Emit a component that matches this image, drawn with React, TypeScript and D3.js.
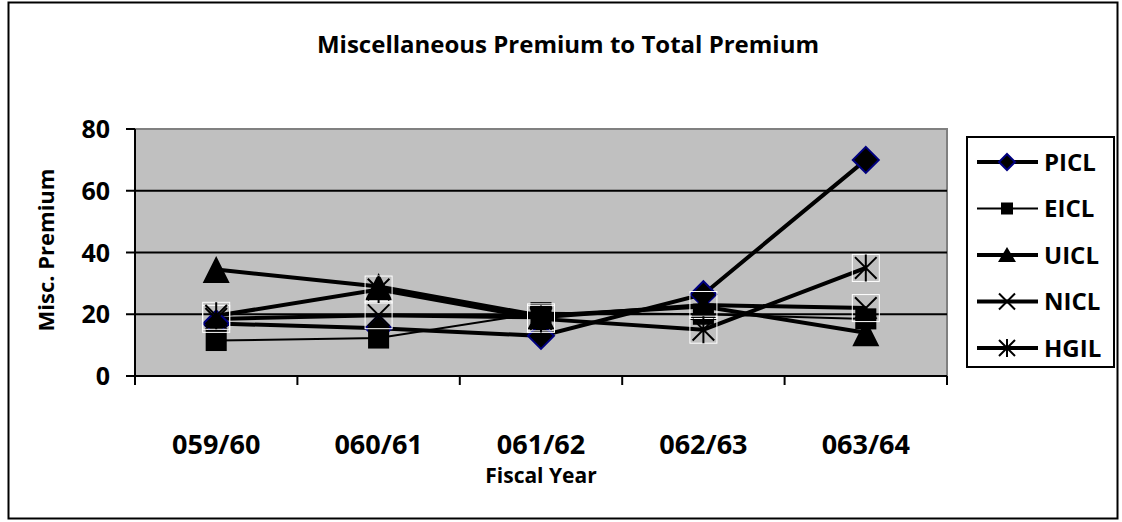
import React from 'react';
import * as d3 from 'd3';

// Fiscal years on the x axis
const YEARS = ['059/60', '060/61', '061/62', '062/63', '063/64'];
const Y_TICKS = [0, 20, 40, 60, 80];

// Misc. premium ratio per company
const PICL = [17, 15.5, 13, 26.5, 70];
const EICL = [11.5, 12.3, 20.5, 20, 18.5];
const UICL = [34.5, 29, 19.5, 22.5, 14];
const NICL = [18.5, 19.7, 19, 23, 22];
const HGIL = [19.5, 28, 18.5, 15, 35];

type Marker = 'diamond' | 'square' | 'triangle' | 'x' | 'star';

const SERIES: { name: string; values: number[]; marker: Marker; width: number }[] = [
  { name: 'PICL', values: PICL, marker: 'diamond', width: 4 },
  { name: 'EICL', values: EICL, marker: 'square', width: 2 },
  { name: 'UICL', values: UICL, marker: 'triangle', width: 4 },
  { name: 'NICL', values: NICL, marker: 'x', width: 4 },
  { name: 'HGIL', values: HGIL, marker: 'star', width: 4 },
];

const FONT = '"Open Sans", Lato, sans-serif';

function MarkerShape({ type, x, y, s }: { type: Marker; x: number; y: number; s: number }) {
  const h = s / 2;
  if (type === 'diamond') {
    return (
      <path
        d={`M${x},${y - h}L${x + h},${y}L${x},${y + h}L${x - h},${y}Z`}
        fill="#000"
        stroke="#000080"
        strokeWidth={2}
      />
    );
  }
  if (type === 'square') {
    const q = h * 0.78;
    return <rect x={x - q} y={y - q} width={q * 2} height={q * 2} fill="#000" />;
  }
  if (type === 'triangle') {
    return <path d={`M${x},${y - h}L${x + h},${y + h}L${x - h},${y + h}Z`} fill="#000" />;
  }
  const a = h * 0.8;
  return (
    <g>
      <rect x={x - h} y={y - h} width={s} height={s} fill="none" stroke="#fff" strokeWidth={1} />
      <path
        d={`M${x - a},${y - a}L${x + a},${y + a}M${x + a},${y - a}L${x - a},${y + a}` +
          (type === 'star' ? `M${x},${y - h}L${x},${y + h}` : '')}
        stroke="#000"
        strokeWidth={2}
      />
    </g>
  );
}

function LegendMarker({ type, x, y }: { type: Marker; x: number; y: number }) {
  const h = 8;
  if (type === 'diamond') {
    return (
      <path d={`M${x},${y - h}L${x + h},${y}L${x},${y + h}L${x - h},${y}Z`} fill="#000" stroke="#000080" strokeWidth={2} />
    );
  }
  if (type === 'square') return <rect x={x - 6} y={y - 6} width={12} height={12} fill="#000" />;
  if (type === 'triangle') return <path d={`M${x},${y - 8}L${x + 9},${y + 7}L${x - 9},${y + 7}Z`} fill="#000" />;
  return (
    <path
      d={`M${x - 8},${y - 8}L${x + 8},${y + 8}M${x + 8},${y - 8}L${x - 8},${y + 8}` +
        (type === 'star' ? `M${x},${y - 9}L${x},${y + 9}` : '')}
      stroke="#000"
      strokeWidth={2}
    />
  );
}

export default function App() {
  const W = 1122;
  const H = 522;
  const plot = { left: 135, right: 947, top: 129, bottom: 376 };

  const x = d3.scaleBand().domain(YEARS).range([plot.left, plot.right]).padding(0);
  const y = d3.scaleLinear().domain([0, 80]).range([plot.bottom, plot.top]);
  const cx = (d: string) => (x(d) ?? 0) + x.bandwidth() / 2;

  const line = d3
    .line<number>()
    .x((_, i) => cx(YEARS[i]))
    .y((v) => y(v));

  const legendTop = 162;
  const legendStep = 46.5;

  return (
    <svg width={W} height={H} style={{ display: 'block', position: 'absolute', left: 0, top: 0 }} fontFamily={FONT}>
      <rect x={0} y={0} width={W} height={H} fill="#fff" />
      {/* chart border */}
      <rect x={8.5} y={2.5} width={1109} height={516} fill="none" stroke="#000" strokeWidth={2} />

      <text x={568} y={45} dy="0.35em" textAnchor="middle" fontSize={24} fontWeight="bold">
        Miscellaneous Premium to Total Premium
      </text>

      {/* plot area */}
      <rect
        x={plot.left}
        y={plot.top}
        width={plot.right - plot.left}
        height={plot.bottom - plot.top}
        fill="#c0c0c0"
        stroke="#808080"
        strokeWidth={2}
      />
      {Y_TICKS.filter((t) => t > 0 && t < 80).map((t) => (
        <line key={t} x1={plot.left} x2={plot.right} y1={y(t)} y2={y(t)} stroke="#000" strokeWidth={2} />
      ))}

      {/* axes */}
      <line x1={plot.left} x2={plot.left} y1={plot.top} y2={plot.bottom} stroke="#000" strokeWidth={2} />
      <line x1={plot.left} x2={plot.right} y1={plot.bottom} y2={plot.bottom} stroke="#000" strokeWidth={2} />
      {Y_TICKS.map((t) => (
        <g key={t}>
          <line x1={plot.left - 9} x2={plot.left} y1={y(t)} y2={y(t)} stroke="#000" strokeWidth={2} />
          <text x={110} y={y(t)} dy="0.36em" textAnchor="end" fontSize={25} fontWeight="bold">
            {t}
          </text>
        </g>
      ))}
      {[...YEARS.map((d) => x(d) ?? 0), plot.right].map((px, i) => (
        <line key={i} x1={px} x2={px} y1={plot.bottom} y2={plot.bottom + 9} stroke="#000" strokeWidth={2} />
      ))}
      {YEARS.map((d) => (
        <text key={d} x={cx(d)} y={444} dy="0.36em" textAnchor="middle" fontSize={27} fontWeight="bold">
          {d}
        </text>
      ))}
      <text x={541} y={475} dy="0.36em" textAnchor="middle" fontSize={21} fontWeight="bold">
        Fiscal Year
      </text>
      <text transform={`translate(46,250) rotate(-90)`} dy="0.36em" textAnchor="middle" fontSize={22} fontWeight="bold">
        Misc. Premium
      </text>

      {/* series lines */}
      {SERIES.map((s) => (
        <path key={s.name} d={line(s.values) ?? ''} fill="none" stroke="#000" strokeWidth={s.width} />
      ))}
      {/* markers */}
      {SERIES.map((s) => (
        <g key={s.name}>
          {s.values.map((v, i) => (
            <MarkerShape key={i} type={s.marker} x={cx(YEARS[i])} y={y(v)} s={s.marker === 'diamond' ? 26 : 27} />
          ))}
        </g>
      ))}

      {/* legend */}
      <rect x={967} y={137} width={147} height={230} fill="#fff" stroke="#000" strokeWidth={2} />
      {SERIES.map((s, i) => {
        const ly = legendTop + i * legendStep;
        return (
          <g key={s.name}>
            <line x1={977} x2={1038} y1={ly} y2={ly} stroke="#000" strokeWidth={s.width} />
            <LegendMarker type={s.marker} x={1007} y={ly} />
            <text x={1044} y={ly} dy="0.36em" fontSize={24} fontWeight="bold">
              {s.name}
            </text>
          </g>
        );
      })}
    </svg>
  );
}
